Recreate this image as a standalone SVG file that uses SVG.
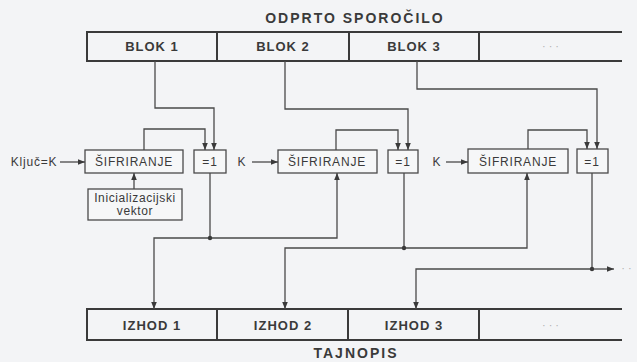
<svg xmlns="http://www.w3.org/2000/svg" width="637" height="362" viewBox="0 0 637 362">
<style>
.bg{fill:#f3f4f6}
.bar{fill:none;stroke:#3a3a3a;stroke-width:2}
.box{fill:#f6f7f8;stroke:#4a4a4a;stroke-width:1.3}
.ln{fill:none;stroke:#4a4a4a;stroke-width:1.3}
.t{font-family:"Liberation Sans",Arial,sans-serif;fill:#3a3a3a;text-anchor:middle}
.b{font-weight:bold;font-size:13px;letter-spacing:1px}
.h{font-weight:bold;font-size:14px;letter-spacing:2px}
.n{font-size:12px;letter-spacing:0.8px}
.s{font-size:12px;letter-spacing:0.6px}
.d{fill:#b0b0b0;font-size:11px;letter-spacing:3px}
</style>
<defs>
<marker id="ar" viewBox="0 0 10 10" refX="10" refY="5" markerWidth="7" markerHeight="7" orient="auto" markerUnits="userSpaceOnUse">
<path d="M0,1 L10,5 L0,9 Z" fill="#3a3a3a"/>
</marker>
</defs>
<rect class="bg" x="0" y="0" width="637" height="362"/>

<g id="title">
<text class="t h" x="355" y="23">ODPRTO SPOROČILO</text>
</g>
<g id="plaintext">
<path class="bar" d="M622,32 H87 V61 H622 M217,32 V61 M349,32 V61 M479,32 V61"/>
<text class="t b" x="152" y="51">BLOK 1</text>
<text class="t b" x="283" y="51">BLOK 2</text>
<text class="t b" x="414" y="51">BLOK 3</text>
<text class="t d" x="552" y="50">···</text>
</g>

<g id="key1"><text class="t n" x="34" y="166">Ključ=K</text></g>
<g id="enc1"><rect class="box" x="85" y="150" width="98" height="23"/><text class="t n" x="134" y="166">ŠIFRIRANJE</text></g>
<g id="iv"><rect class="box" x="88" y="189" width="94" height="31"/><text class="t s" x="135" y="202">Inicializacijski</text><text class="t s" x="135" y="215">vektor</text></g>
<g id="xor1"><rect class="box" x="194" y="150" width="32" height="23"/><text class="t n" x="210" y="166">=1</text></g>

<g id="key2"><text class="t n" x="242" y="166">K</text></g>
<g id="enc2"><rect class="box" x="278" y="150" width="99" height="23"/><text class="t n" x="327" y="166">ŠIFRIRANJE</text></g>
<g id="xor2"><rect class="box" x="388" y="150" width="30" height="23"/><text class="t n" x="403" y="166">=1</text></g>

<g id="key3"><text class="t n" x="437" y="166">K</text></g>
<g id="enc3"><rect class="box" x="468" y="149" width="100" height="24"/><text class="t n" x="518" y="166">ŠIFRIRANJE</text></g>
<g id="xor3"><rect class="box" x="577" y="149" width="31" height="24"/><text class="t n" x="592" y="166">=1</text></g>

<g id="ciphertext">
<path class="bar" d="M622,309 H87 V340 H622 M217,309 V340 M348,309 V340 M479,309 V340"/>
<text class="t b" x="152" y="330">IZHOD 1</text>
<text class="t b" x="283" y="330">IZHOD 2</text>
<text class="t b" x="414" y="330">IZHOD 3</text>
<text class="t d" x="552" y="329">···</text>
<text class="t h" x="356" y="358">TAJNOPIS</text>
</g>

<g id="connectors">
<path class="ln" d="M155,61 V108 H214 V150" marker-end="url(#ar)"/>
<path class="ln" d="M144,150 V129 H205 V150" marker-end="url(#ar)"/>
<path class="ln" d="M60,162 H85" marker-end="url(#ar)"/>
<path class="ln" d="M134,189 V173" marker-end="url(#ar)"/>
<path class="ln" d="M210,173 V238"/>
<path class="ln" d="M210,238 H154 V309" marker-end="url(#ar)"/>
<path class="ln" d="M210,238 H337 V173" marker-end="url(#ar)"/>
<circle cx="210" cy="238" r="2.2" fill="#3a3a3a"/>

<path class="ln" d="M285,61 V109 H408 V150" marker-end="url(#ar)"/>
<path class="ln" d="M336,150 V130 H398 V150" marker-end="url(#ar)"/>
<path class="ln" d="M252,162 H278" marker-end="url(#ar)"/>
<path class="ln" d="M404,173 V248"/>
<path class="ln" d="M404,248 H285 V309" marker-end="url(#ar)"/>
<path class="ln" d="M404,248 H527 V173" marker-end="url(#ar)"/>
<circle cx="404" cy="248" r="2.2" fill="#3a3a3a"/>

<path class="ln" d="M417,61 V89 H597 V149" marker-end="url(#ar)"/>
<path class="ln" d="M528,149 V130 H587 V149" marker-end="url(#ar)"/>
<path class="ln" d="M446,162 H468" marker-end="url(#ar)"/>
<path class="ln" d="M592,173 V269"/>
<path class="ln" d="M592,269 H416 V309" marker-end="url(#ar)"/>
<path class="ln" d="M592,269 H614" marker-end="url(#ar)"/>
<circle cx="592" cy="269" r="2.2" fill="#3a3a3a"/>
<text class="t d" x="628" y="272">··</text>
</g>
</svg>
